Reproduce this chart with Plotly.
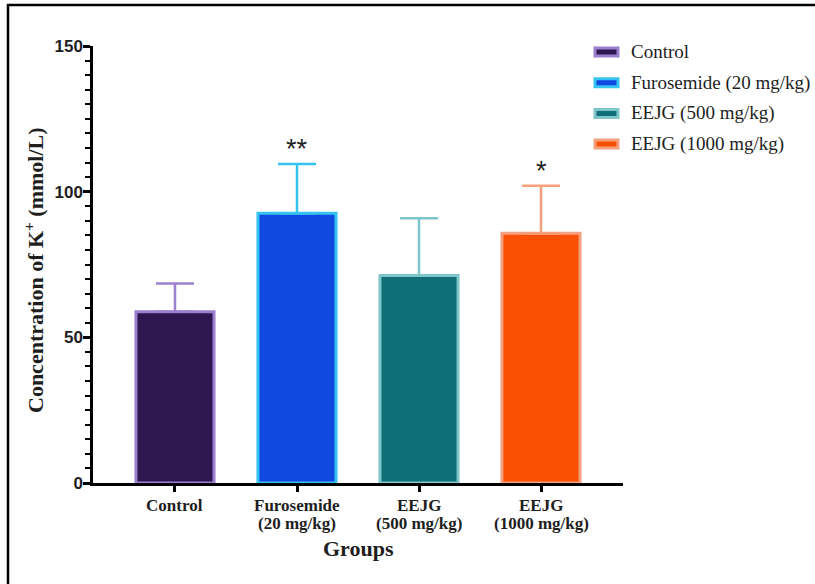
import plotly.graph_objects as go

# Data
groups = ["Control", "Furosemide (20 mg/kg)", "EEJG (500 mg/kg)", "EEJG (1000 mg/kg)"]
tick_line1 = ["Control", "Furosemide", "EEJG", "EEJG"]
tick_line2 = ["", "(20 mg/kg)", "(500 mg/kg)", "(1000 mg/kg)"]
means = [58.8, 92.6, 71.2, 85.7]
sd_upper = [9.7, 16.9, 19.7, 16.3]
significance = ["", "**", "", "*"]

fill_colors = ["#2e1650", "#1148e0", "#0f6e78", "#fa5005"]
edge_colors = ["#9b80cf", "#35c4f2", "#7ec6ca", "#f5a07c"]

W, H = 815, 584
ML, MR, MT, MB = 93, 192, 46, 101
PW, PH = W - ML - MR, H - MT - MB


def px_x(x):
    return (x - ML) / PW


def px_y(y):
    return (H - MB - y) / PH


SERIF = "Liberation Serif, Times New Roman, serif"
SANS = "Liberation Sans, Arial, sans-serif"
TEXT = "#1e1e1e"

fig = go.Figure()
for i, g in enumerate(groups):
    fig.add_trace(go.Bar(
        x=[i], y=[means[i]], name=g, width=0.64,
        marker=dict(color=fill_colors[i], line=dict(color=edge_colors[i], width=3)),
        error_y=dict(type="data", symmetric=False, array=[sd_upper[i]], arrayminus=[0],
                     color=edge_colors[i], thickness=2.5, width=19),
        showlegend=False,
    ))
    if significance[i]:
        fig.add_annotation(x=i, y=means[i] + sd_upper[i], text=significance[i],
                           showarrow=False, yanchor="bottom", yshift=-2,
                           font=dict(family=SANS, size=27, color=TEXT))
    # category labels below the axis
    fig.add_annotation(x=i, y=px_y(505), yref="paper", text=tick_line1[i],
                       showarrow=False, yanchor="middle",
                       font=dict(family=SERIF, size=17, color=TEXT, weight="bold"))
    if tick_line2[i]:
        fig.add_annotation(x=i, y=px_y(523), yref="paper", text=tick_line2[i],
                           showarrow=False, yanchor="middle",
                           font=dict(family=SERIF, size=17, color=TEXT, weight="bold"))

# Legend drawn as swatches with labels
legend_top = 52
legend_step = 30.7
for i, g in enumerate(groups):
    cy = legend_top + i * legend_step
    fig.add_shape(type="rect", xref="paper", yref="paper",
                  x0=px_x(595), x1=px_x(618), y0=px_y(cy + 4), y1=px_y(cy - 4),
                  fillcolor=fill_colors[i], line=dict(color=edge_colors[i], width=3))
    fig.add_annotation(xref="paper", yref="paper", x=px_x(629), y=px_y(cy),
                       text=g, showarrow=False, xanchor="left", yanchor="middle",
                       font=dict(family=SERIF, size=19, color=TEXT))

# Axis titles
fig.add_annotation(xref="paper", yref="paper", x=px_x(358), y=px_y(548),
                   text="Groups", showarrow=False, xanchor="center", yanchor="middle",
                   font=dict(family=SERIF, size=22, color=TEXT, weight="bold"))
fig.add_annotation(xref="paper", yref="paper", x=px_x(34), y=px_y(270),
                   text="Concentration of K<sup>+</sup> (mmol/L)", textangle=-90,
                   showarrow=False, xanchor="center", yanchor="middle",
                   font=dict(family=SERIF, size=22, color=TEXT, weight="bold"))

# Frame lines on the left and top
fig.add_shape(type="line", xref="paper", yref="paper",
              x0=px_x(8), x1=px_x(8), y0=px_y(4), y1=px_y(H),
              line=dict(color="black", width=2.5))
fig.add_shape(type="line", xref="paper", yref="paper",
              x0=px_x(7), x1=px_x(W), y0=px_y(5), y1=px_y(5),
              line=dict(color="black", width=2.5))

fig.update_layout(
    width=W, height=H,
    margin=dict(l=ML, r=MR, t=MT, b=MB),
    paper_bgcolor="white", plot_bgcolor="white",
    barmode="overlay",
    xaxis=dict(
        range=[-0.672, 3.672], tickmode="array", tickvals=list(range(len(groups))),
        showticklabels=False, showline=True, linecolor="black", linewidth=2.5,
        ticks="outside", ticklen=6, tickwidth=2.5, tickcolor="black",
        showgrid=False, zeroline=False,
    ),
    yaxis=dict(
        range=[0, 150], tickvals=[0, 50, 100, 150], showline=True, linecolor="black",
        linewidth=2.5, ticks="outside", ticklen=7, tickwidth=2.5, tickcolor="black",
        minor=dict(dtick=5, ticks="outside", ticklen=5, tickwidth=2, tickcolor="black"),
        showgrid=False, zeroline=False, ticklabelstandoff=-3,
        tickfont=dict(family=SANS, size=17, color=TEXT, weight="bold"),
    ),
)

fig.write_html("out.html")
